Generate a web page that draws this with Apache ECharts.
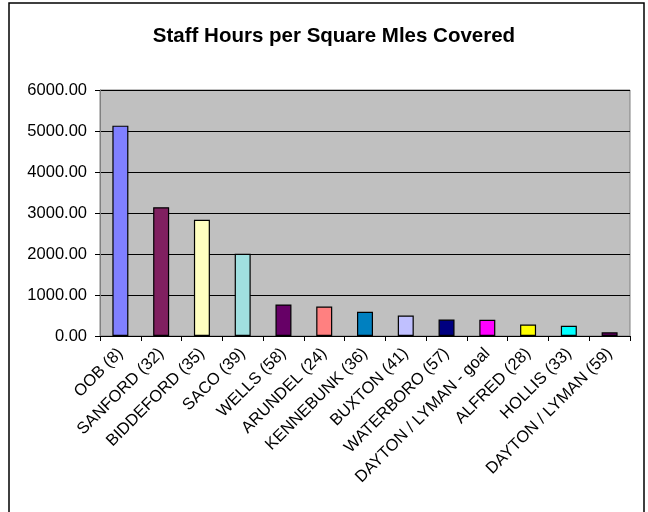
<!DOCTYPE html>
<html>
<head>
<meta charset="utf-8">
<script src="https://cdn.jsdelivr.net/npm/echarts@6/dist/echarts.min.js"></script>
<style>
  html, body { margin: 0; padding: 0; background: #fff; }
  #chart { width: 648px; height: 512px; }
</style>
</head>
<body>
<div id="chart"></div>
<script>
// Districts (with number in parentheses) and staff hours per square mile
const categories = [
  'OOB (8)', 'SANFORD (32)', 'BIDDEFORD (35)', 'SACO (39)', 'WELLS (58)',
  'ARUNDEL (24)', 'KENNEBUNK (36)', 'BUXTON (41)', 'WATERBORO (57)',
  'DAYTON / LYMAN - goal', 'ALFRED (28)', 'HOLLIS (33)', 'DAYTON / LYMAN (59)'
];
const hoursPerSqMile = [5130, 3140, 2835, 2005, 770, 720, 590, 500, 400, 395, 280, 250, 90];
const barColors = [
  '#8080FF', '#802060', '#FFFFC0', '#A0E0E0', '#660066', '#FF8080', '#0080C0',
  '#C0C0FF', '#000080', '#FF00FF', '#FFFF00', '#00FFFF', '#660066'
];
const titleText = 'Staff Hours per Square Mles Covered';

const FONT = 'Arial, "Liberation Sans", sans-serif';

const chart = echarts.init(document.getElementById('chart'), null, { renderer: 'canvas' });

chart.setOption({
  backgroundColor: '#ffffff',
  animation: false,
  title: {
    text: titleText,
    left: 329,
    textAlign: 'center',
    top: 21,
    textStyle: { fontFamily: FONT, fontSize: 20.5, fontWeight: 'bold', color: '#000' }
  },
  graphic: [{
    type: 'rect',
    shape: { x: 9, y: 3, width: 635, height: 520 },
    style: { fill: 'none', stroke: '#000', lineWidth: 1.5 },
    silent: true
  }],
  grid: {
    left: 100, top: 90, right: 18, bottom: 176,
    containLabel: false,
    show: true,
    backgroundColor: '#C0C0C0',
    borderColor: '#808080',
    borderWidth: 1
  },
  xAxis: {
    type: 'category',
    data: categories,
    boundaryGap: true,
    axisLine: { show: true, lineStyle: { color: '#000', width: 1 } },
    axisTick: { show: true, alignWithLabel: false, length: 5, lineStyle: { color: '#000' } },
    axisLabel: {
      interval: 0,
      rotate: 45,
      margin: 15,
      fontFamily: FONT,
      fontSize: 16.5,
      color: '#000'
    },
    splitLine: { show: false }
  },
  yAxis: {
    type: 'value',
    min: 0,
    max: 6000,
    interval: 1000,
    axisLine: { show: true, lineStyle: { color: '#808080', width: 1 } },
    axisTick: { show: true, length: 5, lineStyle: { color: '#000' } },
    axisLabel: {
      margin: 13,
      fontFamily: FONT,
      fontSize: 16.5,
      color: '#000',
      formatter: v => v.toFixed(2)
    },
    splitLine: { show: true, lineStyle: { color: '#000', width: 1 } }
  },
  series: [{
    type: 'bar',
    barWidth: 16,
    data: hoursPerSqMile.map((v, i) => ({
      value: v,
      itemStyle: { color: barColors[i] }
    })),
    itemStyle: { borderColor: '#000', borderWidth: 1.2 }
  }]
});
</script>
</body>
</html>
